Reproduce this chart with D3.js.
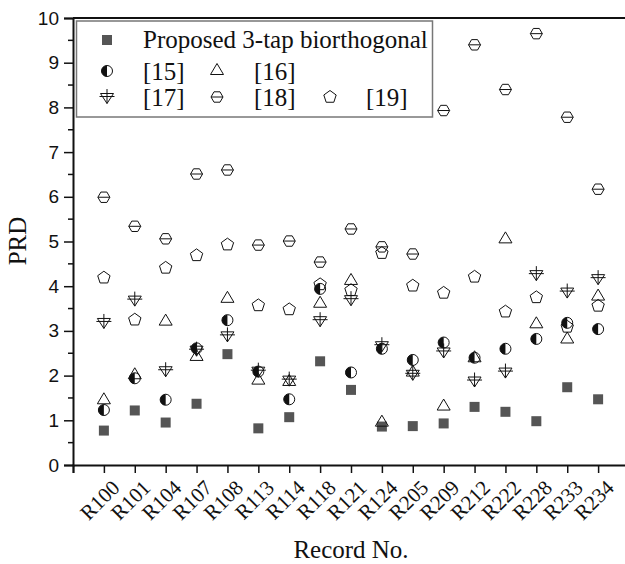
<!DOCTYPE html>
<html>
<head>
<meta charset="utf-8">
<script src="https://cdn.jsdelivr.net/npm/d3@7"></script>
<style>
  body { margin: 0; background: #fff; }
  #chart { width: 625px; height: 564px; }
  text { fill: #111; }
  .serif { font-family: 'Liberation Serif', 'Times New Roman', 'DejaVu Serif', serif; }
  .sans { font-family: 'Liberation Sans', Arial, sans-serif; }
</style>
</head>
<body>
<div id="chart"></div>
<script>
//Datos
const records = ['R100','R101','R104','R107','R108','R113','R114','R118','R121','R124','R205','R209','R212','R222','R228','R233','R234'];
const proposed = [0.77,1.22,0.95,1.37,2.48,0.82,1.07,2.32,1.68,0.86,0.87,0.93,1.30,1.19,0.98,1.74,1.47];
const ref15 = [1.23,1.94,1.46,2.61,3.24,2.09,1.47,3.94,2.07,2.60,2.35,2.74,2.40,2.60,2.82,3.18,3.04];
const ref16 = [1.47,2.03,3.23,2.44,3.74,1.91,1.88,3.63,4.14,0.97,2.09,1.33,2.41,5.07,3.17,2.83,3.79];
const ref17 = [3.20,3.70,2.12,2.58,2.90,2.11,1.91,3.24,3.71,2.68,2.04,2.54,1.89,2.09,4.27,3.88,4.18];
const ref18 = [5.99,5.34,5.06,6.51,6.60,4.92,5.01,4.54,5.28,4.88,4.72,7.93,9.40,8.40,9.65,7.78,6.17];
const ref19 = [4.19,3.25,4.41,4.69,4.93,3.57,3.48,4.04,3.91,4.74,4.01,3.85,4.21,3.43,3.75,3.09,3.56];
const yTicks = [0,1,2,3,4,5,6,7,8,9,10];

const series = [
  { name: 'Proposed 3-tap biorthogonal', key: 'square', values: proposed },
  { name: '[15]', key: 'half', values: ref15 },
  { name: '[16]', key: 'tri', values: ref16 },
  { name: '[17]', key: 'down', values: ref17 },
  { name: '[18]', key: 'hex', values: ref18 },
  { name: '[19]', key: 'pent', values: ref19 }
];

const W = 625, H = 564;
let svg = d3.select('#chart').append('svg')
  .attr('width', W).attr('height', H);

let x = d3.scaleLinear().domain([0, 18]).range([73, 629]);
let y = d3.scaleLinear().domain([0, 10]).range([465, 18]);

//Ejes
let yAxis = d3.axisLeft(y).tickValues(yTicks).tickSize(9).tickPadding(5).tickFormat(d3.format('d'));
let gy = svg.append('g').attr('transform', 'translate(73,0)').call(yAxis);
gy.attr('font-family', null);
gy.selectAll('.tick text').attr('class', 'sans').attr('font-size', 19);

//minor ticks
svg.append('g').selectAll('line')
  .data(d3.range(0.5, 10, 1))
  .enter().append('line')
  .attr('x1', 68).attr('x2', 73)
  .attr('y1', d => y(d)).attr('y2', d => y(d))
  .attr('stroke', '#111').attr('stroke-width', 1.5);

let xAxis = d3.axisBottom(x).tickValues(d3.range(0, records.length + 1)).tickSize(8).tickFormat('');
svg.append('g').attr('transform', 'translate(0,465)').call(xAxis);

svg.selectAll('.domain').attr('stroke', '#111').attr('stroke-width', 2);
svg.selectAll('.tick line').attr('stroke', '#111').attr('stroke-width', 1.5);

//top frame
svg.append('line')
  .attr('x1', x(0)).attr('x2', W)
  .attr('y1', y(10)).attr('y2', y(10))
  .attr('stroke', '#111').attr('stroke-width', 2);

//x labels
svg.append('g').selectAll('text')
  .data(records)
  .enter().append('text')
  .attr('class', 'serif')
  .attr('transform', (d, i) => 'translate(' + (x(i + 1) + 17) + ',489) rotate(-45)')
  .attr('text-anchor', 'end')
  .attr('font-size', 21)
  .text(d => d);

//titulos
svg.append('text')
  .attr('class', 'serif')
  .attr('x', 351).attr('y', 558)
  .attr('text-anchor', 'middle')
  .attr('font-size', 25)
  .text('Record No.');

svg.append('text')
  .attr('class', 'serif')
  .attr('transform', 'translate(26,241) rotate(-90)')
  .attr('text-anchor', 'middle')
  .attr('font-size', 25)
  .text('PRD');

//Simbolos
function hexPath(r) {
  let pts = d3.range(6).map(i => [r * Math.cos(i * Math.PI / 3), r * Math.sin(i * Math.PI / 3)]);
  return 'M' + pts.join('L') + 'Z M' + (-r) + ',0 H' + r;
}
function pentPath(r) {
  let pts = d3.range(5).map(i => {
    let a = -Math.PI / 2 + i * 2 * Math.PI / 5;
    return [r * Math.cos(a), r * Math.sin(a)];
  });
  return 'M' + pts.join('L') + 'Z';
}

function drawMarker(g, key) {
  if (key === 'square') {
    g.append('rect').attr('x', -5).attr('y', -5).attr('width', 10).attr('height', 10)
      .attr('fill', '#555');
  } else if (key === 'half') {
    g.append('circle').attr('r', 5.5).attr('fill', 'none').attr('stroke', '#111').attr('stroke-width', 1);
    g.append('path').attr('d', d3.arc()({ innerRadius: 0, outerRadius: 5.5, startAngle: Math.PI, endAngle: 2 * Math.PI }))
      .attr('fill', '#111');
  } else if (key === 'tri') {
    g.append('path').attr('d', 'M0,-6.5L6.5,4.5L-6.5,4.5Z')
      .attr('fill', 'none').attr('stroke', '#111').attr('stroke-width', 1);
  } else if (key === 'down') {
    g.append('path').attr('d', 'M-6.5,-3.5L6.5,-3.5L0,6.5Z M-7.5,-0.5H7.5 M0,-8V6.5')
      .attr('fill', 'none').attr('stroke', '#111').attr('stroke-width', 1);
  } else if (key === 'hex') {
    g.append('path').attr('d', hexPath(6))
      .attr('fill', 'none').attr('stroke', '#111').attr('stroke-width', 1);
  } else if (key === 'pent') {
    g.append('path').attr('d', pentPath(6.5))
      .attr('fill', 'none').attr('stroke', '#111').attr('stroke-width', 1);
  }
}

let plot = svg.append('g').attr('class', 'chart-g');
series.forEach(s => {
  plot.append('g').selectAll('g')
    .data(s.values)
    .enter().append('g')
    .attr('transform', (d, i) => 'translate(' + x(i + 1) + ',' + y(d) + ')')
    .each(function() { drawMarker(d3.select(this), s.key); });
});

//Leyenda
let legend = svg.append('g');
legend.append('rect')
  .attr('x', 76.5).attr('y', 21).attr('width', 356).attr('height', 96)
  .attr('fill', '#fff').attr('stroke', '#777').attr('stroke-width', 1.5);

let legendPos = [
  { mx: 107, my: 40, tx: 143, ty: 48 },
  { mx: 107, my: 71, tx: 143, ty: 80 },
  { mx: 217, my: 70, tx: 254, ty: 80 },
  { mx: 107, my: 97, tx: 143, ty: 106 },
  { mx: 217, my: 97, tx: 254, ty: 106 },
  { mx: 330, my: 97, tx: 366, ty: 106 }
];
series.forEach((s, i) => {
  let p = legendPos[i];
  let g = legend.append('g').attr('transform', 'translate(' + p.mx + ',' + p.my + ')');
  drawMarker(g, s.key);
  legend.append('text')
    .attr('class', 'serif')
    .attr('x', p.tx).attr('y', p.ty)
    .attr('font-size', 25)
    .text(s.name);
});
</script>
</body>
</html>
